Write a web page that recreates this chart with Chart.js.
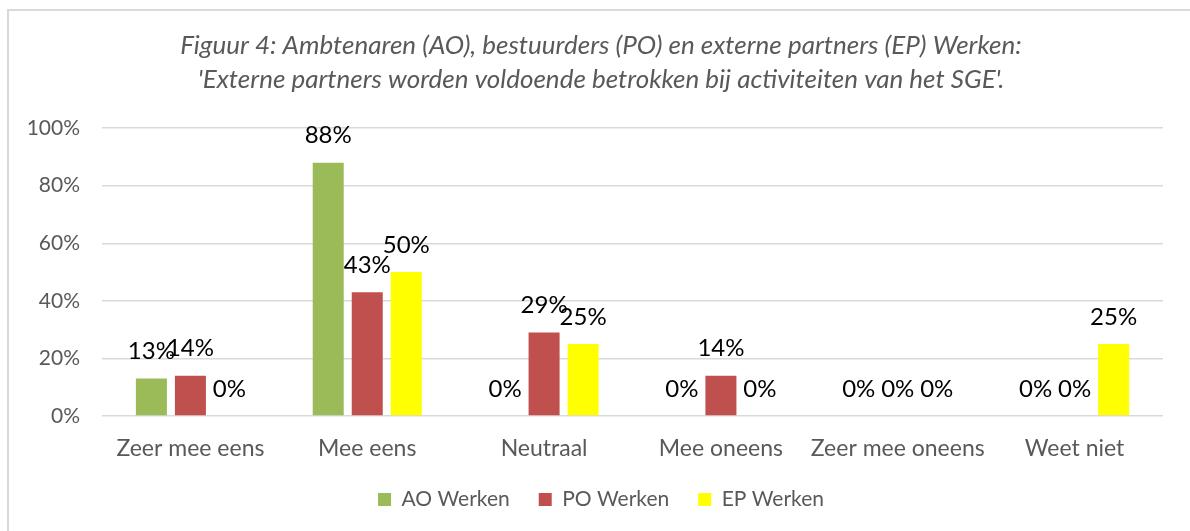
<!DOCTYPE html>
<html lang="nl">
<head>
<meta charset="UTF-8">
<title>Figuur 4</title>
<style>
body { margin: 0; background: #fff; }
.wrap { position: relative; width: 1190px; height: 531px; }
.frame {
    position: absolute; left: 7px; top: 9px; right: 0; bottom: 0;
    border-left: 2px solid #d9d9d9; border-top: 2px solid #d9d9d9;
    pointer-events: none;
}
canvas { position: absolute; left: 0; top: 0; }
</style>
<script src="https://cdn.jsdelivr.net/npm/chart.js"></script>
</head>
<body>
<div class="wrap">
    <canvas id="chart" width="1190" height="531"></canvas>
    <div class="frame"></div>
</div>
<script>
// categories and series (percent)
const categories = ["Zeer mee eens", "Mee eens", "Neutraal", "Mee oneens", "Zeer mee oneens", "Weet niet"];
const aoWerken = [13, 88, 0, 0, 0, 0];
const poWerken = [14, 43, 29, 14, 0, 0];
const epWerken = [0, 50, 25, 0, 0, 25];
const yTicks = [0, 20, 40, 60, 80, 100];

const FONT = "Lato, 'Open Sans', sans-serif";

// draws value labels above each bar, like Excel "outside end"
const valueLabels = {
    id: "valueLabels",
    afterDatasetsDraw(chart) {
        const ctx = chart.ctx;
        ctx.save();
        ctx.font = "24px " + FONT;
        ctx.fillStyle = "#000";
        ctx.textAlign = "center";
        ctx.textBaseline = "middle";
        chart.data.datasets.forEach((ds, i) => {
            chart.getDatasetMeta(i).data.forEach((bar, j) => {
                ctx.fillText(ds.data[j] + "%", bar.x, bar.y - 27);
            });
        });
        ctx.restore();
    }
};

new Chart(document.getElementById("chart"), {
    type: "bar",
    data: {
        labels: categories,
        datasets: [
            { label: "AO Werken", data: aoWerken, backgroundColor: "#9BBB59" },
            { label: "PO Werken", data: poWerken, backgroundColor: "#C0504D" },
            { label: "EP Werken", data: epWerken, backgroundColor: "#FFFF00" }
        ]
    },
    options: {
        responsive: false,
        animation: false,
        layout: { padding: { left: 12, right: 0, top: 0, bottom: 11 } },
        datasets: { bar: { categoryPercentage: 0.662, barPercentage: 0.795 } },
        scales: {
            x: {
                grid: { display: false, drawTicks: false },
                border: { display: false },
                ticks: { color: "#595959", font: { family: FONT, size: 23 }, padding: 19,
                         maxRotation: 0, minRotation: 0, autoSkip: false },
                afterFit(s) { s.height = 44; }
            },
            y: {
                min: 0, max: 100,
                afterBuildTicks(s) { s.ticks = yTicks.map(v => ({ value: v })); },
                grid: { color: "#d9d9d9", lineWidth: 1.5, drawTicks: false },
                border: { display: false },
                ticks: { color: "#595959", font: { family: FONT, size: 21 }, padding: 22,
                         callback: v => v + "%" },
                afterFit(s) { s.width = 90; }
            },
            // empty right-side spacer so the plot ends where the original does
            yRight: {
                position: "right",
                grid: { display: false, drawTicks: false },
                border: { display: false },
                ticks: { display: false },
                afterFit(s) { s.width = 27; }
            }
        },
        plugins: {
            title: {
                display: true,
                text: ["Figuur 4: Ambtenaren (AO), bestuurders (PO) en externe partners (EP) Werken:",
                       "'Externe partners worden voldoende betrokken bij activiteiten van het SGE'."],
                color: "#595959",
                font: { family: FONT, size: 26, style: "italic", weight: "normal", lineHeight: 1.31 },
                padding: { top: 29, bottom: 31 }
            },
            legend: {
                position: "bottom",
                labels: { color: "#595959", font: { family: FONT, size: 21 },
                          boxWidth: 13, boxHeight: 13, padding: 29 }
            },
            tooltip: { enabled: false }
        }
    },
    plugins: [valueLabels]
});
</script>
</body>
</html>
